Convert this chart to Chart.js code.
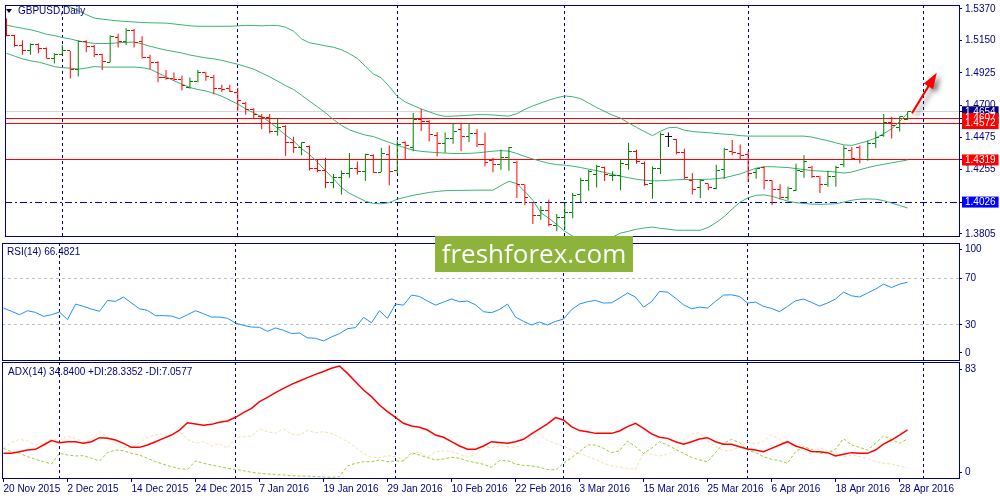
<!DOCTYPE html>
<html><head><meta charset="utf-8">
<script src="https://cdn.jsdelivr.net/npm/chart.js@4.4.1/dist/chart.umd.min.js"></script>
<style>
html,body{margin:0;padding:0;background:#fff;}
#wrap{position:relative;width:1000px;height:500px;overflow:hidden;background:#fff;}
canvas{position:absolute;left:0;}
.lbl{position:absolute;font-family:'Liberation Sans',Arial,sans-serif;font-size:10px;color:#000080;white-space:nowrap;line-height:12px;}
#tri{position:absolute;left:6px;top:9px;width:0;height:0;border-left:3.5px solid transparent;border-right:3.5px solid transparent;border-top:4px solid #000040;}
#logo{position:absolute;left:435px;top:236px;width:198px;height:36px;background:#8db33a;color:#fff;font-family:'Open Sans',sans-serif;font-size:26px;line-height:35px;text-align:center;}
</style></head><body>
<div id="wrap">
<canvas id="cMain" width="1000" height="241" style="top:0px"></canvas>
<canvas id="cRsi" width="1000" height="120" style="top:241px"></canvas>
<canvas id="cAdx" width="1000" height="139" style="top:361px"></canvas>
<div id="tri"></div>
<div class="lbl" style="left:18px;top:5px">GBPUSD,Daily</div>
<div class="lbl" style="left:7px;top:246px">RSI(14) 66.4821</div>
<div class="lbl" style="left:8px;top:366px">ADX(14) 34.8400 +DI:28.3352 -DI:7.0577</div>
<div id="logo">freshforex.com</div>
</div>
<script>
// ---------------- data ----------------
const dateTickLabels = ['20 Nov 2015','2 Dec 2015','14 Dec 2015','24 Dec 2015','7 Jan 2016','19 Jan 2016','29 Jan 2016','10 Feb 2016','22 Feb 2016','3 Mar 2016','15 Mar 2016','25 Mar 2016','6 Apr 2016','18 Apr 2016','28 Apr 2016'];
const dateTickIdx = [0,8,16,24,32,40,48,56,64,72,80,88,96,104,112];
const monthStartIdx = [7,29,49,70,93,115];

const open = [1.5289,1.5188,1.5118,1.5077,1.5124,1.5095,1.5028,1.5055,1.5077,1.4949,
1.5145,1.5111,1.5055,1.5000,1.5174,1.5145,1.5219,1.5145,1.5033,1.4998,
1.4893,1.4889,1.4882,1.4825,1.4865,1.4927,1.4893,1.4816,1.4814,1.4791,
1.4713,1.4668,1.4623,1.4612,1.4514,1.4551,1.4443,1.4409,1.4416,1.4262,
1.4244,1.4161,1.4195,1.4228,1.4262,1.4240,1.4352,1.4235,1.4359,1.4246,
1.4438,1.4409,1.4600,1.4589,1.4487,1.4431,1.4469,1.4532,1.4480,1.4503,
1.4427,1.4314,1.4290,1.4334,1.4303,1.4146,1.4022,1.3931,1.3970,1.3862,
1.3918,1.3952,1.4078,1.4177,1.4217,1.4267,1.4211,1.4213,1.4285,1.4379,
1.4296,1.4155,1.4257,1.4483,1.4458,1.4368,1.4177,1.4127,1.4155,1.4122,
1.4251,1.4379,1.4365,1.4359,1.4235,1.4267,1.4173,1.4116,1.4060,1.4109,
1.4240,1.4269,1.4201,1.4150,1.4201,1.4285,1.4386,1.4409,1.4323,1.4431,
1.4487,1.4578,1.4544,1.4600];
const high = [1.5305,1.5190,1.5152,1.5129,1.5129,1.5102,1.5062,1.5118,1.5077,1.5152,
1.5152,1.5118,1.5057,1.5186,1.5197,1.5235,1.5230,1.5179,1.5051,1.5005,
1.4944,1.4927,1.4904,1.4893,1.4944,1.4933,1.4911,1.4843,1.4843,1.4821,
1.4724,1.4679,1.4639,1.4639,1.4605,1.4560,1.4480,1.4443,1.4420,1.4323,
1.4334,1.4222,1.4246,1.4368,1.4308,1.4363,1.4359,1.4404,1.4420,1.4454,
1.4447,1.4646,1.4674,1.4595,1.4514,1.4510,1.4578,1.4571,1.4571,1.4532,
1.4510,1.4334,1.4390,1.4409,1.4312,1.4150,1.4026,1.3997,1.4044,1.3943,
1.4022,1.4089,1.4195,1.4251,1.4285,1.4274,1.4240,1.4319,1.4438,1.4390,
1.4308,1.4274,1.4510,1.4510,1.4465,1.4397,1.4228,1.4184,1.4155,1.4285,
1.4404,1.4458,1.4427,1.4379,1.4262,1.4274,1.4177,1.4150,1.4134,1.4292,
1.4352,1.4278,1.4210,1.4244,1.4278,1.4420,1.4409,1.4420,1.4454,1.4517,
1.4639,1.4619,1.4623,1.4656];
const low = [1.5179,1.5106,1.5051,1.5051,1.5062,1.5024,1.4990,1.5051,1.4886,1.4900,
1.5068,1.5035,1.4944,1.4998,1.5102,1.5118,1.5102,1.5024,1.4949,1.4859,
1.4877,1.4870,1.4803,1.4814,1.4859,1.4870,1.4776,1.4791,1.4791,1.4661,
1.4634,1.4607,1.4532,1.4503,1.4487,1.4348,1.4370,1.4352,1.4246,1.4233,
1.4122,1.4122,1.4078,1.4195,1.4217,1.4173,1.4228,1.4235,1.4143,1.4224,
1.4319,1.4379,1.4521,1.4447,1.4345,1.4370,1.4431,1.4379,1.4443,1.4409,
1.4274,1.4233,1.4251,1.4244,1.4055,1.4004,1.3873,1.3903,1.3857,1.3823,
1.3835,1.3914,1.4026,1.4105,1.4127,1.4173,1.4173,1.4109,1.4251,1.4292,
1.4139,1.4049,1.4222,1.4409,1.4359,1.4184,1.4078,1.4055,1.4109,1.4116,
1.4188,1.4352,1.4323,1.4166,1.4188,1.4116,1.4004,1.4044,1.4038,1.4105,
1.4195,1.4195,1.4089,1.4132,1.4132,1.4269,1.4323,1.4296,1.4314,1.4404,
1.4480,1.4469,1.4517,1.4595];
const close = [1.5186,1.5118,1.5077,1.5124,1.5095,1.5028,1.5055,1.5077,1.4949,1.5145,
1.5106,1.5055,1.5005,1.5179,1.5140,1.5219,1.5135,1.5033,1.4998,1.4893,
1.4889,1.4882,1.4836,1.4865,1.4927,1.4898,1.4814,1.4812,1.4798,1.4735,
1.4668,1.4634,1.4612,1.4514,1.4544,1.4443,1.4409,1.4438,1.4262,1.4244,
1.4161,1.4195,1.4226,1.4262,1.4240,1.4359,1.4233,1.4363,1.4240,1.4427,
1.4420,1.4600,1.4585,1.4496,1.4431,1.4469,1.4516,1.4480,1.4503,1.4427,
1.4301,1.4290,1.4334,1.4404,1.4146,1.4060,1.3931,1.3970,1.3869,1.3918,
1.3952,1.4071,1.4177,1.4240,1.4274,1.4217,1.4214,1.4292,1.4375,1.4308,
1.4150,1.4257,1.4498,1.4483,1.4368,1.4195,1.4116,1.4173,1.4127,1.4246,
1.4390,1.4370,1.4352,1.4228,1.4257,1.4177,1.4116,1.4060,1.4120,1.4244,
1.4308,1.4201,1.4150,1.4201,1.4269,1.4397,1.4330,1.4323,1.4436,1.4476,
1.4578,1.4560,1.4619,1.4654];

const bbUpper = [1.5600,1.5573,1.5546,1.5519,1.5492,1.5465,1.5438,1.5411,1.5384,1.5357,
1.5330,1.5306,1.5299,1.5292,1.5286,1.5282,1.5279,1.5275,1.5273,1.5272,
1.5271,1.5265,1.5259,1.5252,1.5249,1.5249,1.5249,1.5249,1.5249,1.5252,
1.5255,1.5255,1.5252,1.5255,1.5255,1.5242,1.5215,1.5161,1.5134,1.5124,
1.5113,1.5103,1.5086,1.5059,1.5025,1.4971,1.4917,1.4890,1.4830,1.4762,
1.4722,1.4698,1.4674,1.4654,1.4634,1.4622,1.4624,1.4627,1.4630,1.4634,
1.4634,1.4632,1.4627,1.4624,1.4641,1.4671,1.4695,1.4715,1.4735,1.4752,
1.4764,1.4759,1.4745,1.4715,1.4684,1.4657,1.4630,1.4610,1.4576,1.4546,
1.4516,1.4488,1.4519,1.4543,1.4546,1.4526,1.4517,1.4512,1.4509,1.4503,
1.4499,1.4495,1.4488,1.4485,1.4485,1.4485,1.4485,1.4485,1.4485,1.4485,
1.4485,1.4478,1.4465,1.4453,1.4438,1.4424,1.4420,1.4435,1.4451,1.4472,
1.4502,1.4536,1.4587,1.4644];
const bbMiddle = [1.5257,1.5245,1.5235,1.5225,1.5211,1.5194,1.5184,1.5171,1.5161,1.5147,
1.5137,1.5130,1.5129,1.5130,1.5134,1.5137,1.5139,1.5127,1.5110,1.5096,
1.5083,1.5073,1.5063,1.5049,1.5039,1.5029,1.5022,1.5012,1.4998,1.4985,
1.4968,1.4951,1.4924,1.4897,1.4867,1.4836,1.4809,1.4769,1.4728,1.4688,
1.4647,1.4600,1.4559,1.4529,1.4509,1.4492,1.4482,1.4461,1.4441,1.4421,
1.4404,1.4387,1.4379,1.4374,1.4370,1.4367,1.4364,1.4364,1.4365,1.4368,
1.4374,1.4380,1.4384,1.4380,1.4364,1.4343,1.4326,1.4310,1.4296,1.4286,
1.4283,1.4276,1.4266,1.4255,1.4245,1.4232,1.4219,1.4206,1.4195,1.4185,
1.4178,1.4174,1.4174,1.4178,1.4181,1.4183,1.4183,1.4183,1.4185,1.4188,
1.4195,1.4208,1.4222,1.4242,1.4262,1.4272,1.4272,1.4269,1.4266,1.4259,
1.4252,1.4245,1.4242,1.4239,1.4235,1.4228,1.4235,1.4251,1.4266,1.4279,
1.4289,1.4299,1.4309,1.4319];
const bbLower = [1.5061,1.5042,1.5022,1.5009,1.5000,1.4985,1.4968,1.4961,1.4958,1.4951,
1.4958,1.4969,1.4965,1.4965,1.4965,1.4965,1.4965,1.4961,1.4951,1.4924,
1.4897,1.4870,1.4846,1.4823,1.4809,1.4799,1.4782,1.4762,1.4735,1.4708,
1.4674,1.4647,1.4620,1.4583,1.4539,1.4492,1.4451,1.4397,1.4357,1.4303,
1.4245,1.4188,1.4127,1.4087,1.4060,1.4032,1.4017,1.4014,1.4022,1.4046,
1.4060,1.4073,1.4083,1.4093,1.4100,1.4105,1.4107,1.4107,1.4108,1.4109,
1.4109,1.4109,1.4141,1.4171,1.4154,1.4100,1.4039,1.3952,1.3914,1.3870,
1.3823,1.3789,1.3762,1.3749,1.3749,1.3762,1.3783,1.3810,1.3823,1.3837,
1.3846,1.3852,1.3843,1.3837,1.3830,1.3830,1.3830,1.3830,1.3850,1.3884,
1.3925,1.3978,1.4026,1.4056,1.4073,1.4076,1.4066,1.4049,1.4032,1.4022,
1.4016,1.4012,1.4010,1.4012,1.4014,1.4026,1.4039,1.4046,1.4048,1.4046,
1.4036,1.4019,1.4002,1.3985];

const rsi = [44.4,41.6,38.7,42.1,40.7,37.3,38.7,41.0,34.5,47.8,
45.8,43.5,41.6,50.9,50.1,53.8,48.7,43.8,42.4,37.9,
37.9,37.6,35.3,38.7,42.1,39.6,36.7,36.7,35.6,31.6,
29.6,28.2,27.9,24.5,27.4,25.4,22.6,23.1,18.9,18.6,
16.3,19.7,22.6,26.8,27.7,36.4,31.9,42.1,35.6,47.8,
46.9,55.5,54.3,50.4,46.9,49.5,52.1,49.8,50.4,47.2,
41.3,40.4,43.2,47.8,36.7,33.0,29.9,32.5,29.9,33.0,
35.0,43.0,47.8,49.8,50.9,48.7,48.9,52.9,57.2,53.8,
45.2,49.8,58.6,58.0,52.9,47.2,43.8,45.2,44.4,50.1,
55.5,55.7,54.3,48.7,49.5,45.8,44.1,41.3,45.8,50.6,
52.1,49.2,46.1,48.7,52.1,58.0,54.9,53.8,57.2,60.6,
64.8,62.0,64.8,66.5];
const adx = [17.8,17.8,19.0,20.2,20.7,23.8,27.0,25.5,26.2,26.2,
25.0,26.2,29.1,28.6,27.4,25.0,22.1,22.1,23.8,26.2,
28.6,31.0,34.6,39.9,39.0,38.0,38.7,40.2,41.1,43.8,
47.2,50.3,55.1,58.2,61.6,64.7,67.6,70.0,72.4,74.8,
76.8,79.2,80.8,75.5,69.5,63.5,58.7,52.7,47.9,43.8,
39.5,37.5,36.6,34.6,31.0,29.4,26.2,23.1,20.7,20.7,
23.1,26.2,25.7,25.0,26.2,27.9,31.8,35.4,39.0,43.6,
41.9,37.1,34.2,33.4,32.2,32.2,32.2,33.9,37.1,39.5,
35.8,31.8,29.4,28.6,26.2,24.3,26.2,28.2,29.1,26.2,
24.3,24.3,22.6,20.9,20.2,19.0,21.4,23.8,26.2,23.1,
21.4,19.2,19.0,18.3,15.9,17.1,18.3,17.8,17.8,20.2,
24.5,27.4,31.0,34.8];
const plusDI = [21.4,19.0,17.8,15.4,13.5,11.8,10.1,17.8,16.6,15.9,
16.1,14.2,12.3,18.3,20.2,19.7,17.8,16.6,14.2,11.8,
9.9,8.2,6.7,6.2,12.3,10.6,9.4,8.2,7.0,6.2,
5.3,4.1,3.4,2.9,2.4,2.2,1.7,1.4,1.4,1.0,
0.7,0.5,1.0,8.7,10.6,11.8,11.8,13.0,11.8,12.3,
12.3,18.3,16.6,14.7,13.0,13.7,14.9,14.2,12.3,11.1,
9.9,7.7,12.5,12.5,10.1,9.1,8.7,7.7,6.2,5.8,
10.6,14.7,19.0,23.8,23.8,21.4,18.3,19.7,26.7,22.6,
17.8,21.4,26.2,23.8,20.7,17.8,14.9,13.0,11.8,18.3,
25.0,27.9,25.5,20.2,18.3,15.4,13.5,12.5,10.6,19.0,
22.6,20.7,17.8,18.3,20.7,28.4,23.8,22.1,20.2,25.0,
30.3,27.9,25.0,28.3];
const minusDI = [21.4,25.5,27.9,26.7,23.8,25.0,27.4,27.4,30.3,28.6,
26.2,27.4,33.4,29.4,25.0,21.9,22.1,25.5,29.4,31.0,
31.8,27.9,33.4,27.9,25.0,26.2,23.1,25.0,21.4,29.4,
29.8,30.3,35.4,33.4,32.2,35.4,31.8,31.0,34.2,32.7,
33.4,32.2,29.4,26.2,22.1,17.8,14.9,14.7,16.1,15.4,
13.0,16.6,19.0,14.9,19.0,19.7,19.0,17.1,14.9,17.1,
22.6,21.9,23.3,22.6,22.1,25.0,29.8,31.8,27.0,25.0,
23.1,20.2,17.8,15.4,13.5,10.6,8.7,7.7,7.0,6.2,
18.3,17.1,15.9,17.1,20.2,27.4,31.8,32.7,26.2,23.1,
19.7,20.2,22.1,26.2,24.5,26.7,31.0,27.9,23.1,23.8,
20.2,17.1,22.1,19.5,19.0,15.4,16.6,15.4,14.2,11.8,
10.6,10.1,8.7,7.1];

const priceAxisLabels = [1.5370,1.5150,1.4925,1.4700,1.4475,1.4255,1.3805];
const supportLevels = [1.4026];
const resistanceLevels = [1.4319,1.4607,1.4572];
const bidPrice = 1.4654;
const rsiTickPos = [94.6,70,30,6.1];
const rsiTickText = ['100','70','30','0'];
const rsiLevels = [70,30];
const adxTickPos = [78.5,4.1];
const adxTickText = ['83','0'];
const arrowFrom = {x:113.6, y:1.4649};
const arrowTo = {x:116.65, y:1.4926};

// ---------------- style ----------------
const NAVY = '#000080';
const FONT = "'Liberation Sans', Arial, sans-serif";
const UP = '#008000', DOWN = '#ff0000', DOJI = '#000000';
const X_MIN = -0.1875, X_MAX = 119.4375;
const PRICE_MIN = 1.3790, PRICE_MAX = 1.5397;

function kindOf(i){ return close[i] > open[i] ? 'up' : (close[i] < open[i] ? 'down' : 'doji'); }
const COL = {up:UP, down:DOWN, doji:DOJI};
function tickImg(color, side){
  const c = document.createElement('canvas'); c.width = 7; c.height = 1;
  const g = c.getContext('2d'); g.fillStyle = color;
  if (side === 'L') g.fillRect(0,0,3,1); else g.fillRect(4,0,3,1);
  return c;
}
const OPEN_IMG = {}, CLOSE_IMG = {};
for (const k of ['up','down','doji']) { OPEN_IMG[k] = tickImg(COL[k],'L'); CLOSE_IMG[k] = tickImg(COL[k],'R'); }

const framePlugin = { id:'frame', afterDraw(chart){
  const a = chart.chartArea, c = chart.ctx;
  c.save(); c.strokeStyle = NAVY; c.lineWidth = 1; c.setLineDash([]);
  c.strokeRect(a.left+0.5, a.top+0.5, a.right-a.left, a.bottom-a.top);
  c.restore();
}};
const crispPlugin = { id:'crisp', beforeDatasetsDraw(chart){ chart.ctx.imageSmoothingEnabled = false; } };
const arrowPlugin = { id:'arrow', afterDatasetsDraw(chart){
  const xs = chart.scales.x, ys = chart.scales.y, c = chart.ctx;
  const x1 = xs.getPixelForValue(arrowFrom.x), y1 = ys.getPixelForValue(arrowFrom.y);
  const x2 = xs.getPixelForValue(arrowTo.x), y2 = ys.getPixelForValue(arrowTo.y);
  const ang = Math.atan2(y2-y1, x2-x1), L = 16, W = 5.5;
  const bx = x2 - L*Math.cos(ang), by = y2 - L*Math.sin(ang);
  c.save();
  c.shadowColor = 'rgba(0,0,0,0.45)'; c.shadowBlur = 5; c.shadowOffsetX = 4; c.shadowOffsetY = 3;
  c.strokeStyle = '#ff0000'; c.fillStyle = '#ff0000'; c.lineWidth = 2.2; c.lineCap = 'round';
  c.beginPath(); c.moveTo(x1,y1); c.lineTo(bx + 3*Math.cos(ang), by + 3*Math.sin(ang)); c.stroke();
  c.beginPath(); c.moveTo(x2,y2);
  c.lineTo(bx + W*Math.sin(ang), by - W*Math.cos(ang));
  c.lineTo(bx - W*Math.sin(ang), by + W*Math.cos(ang));
  c.closePath(); c.fill();
  c.restore();
}};

function gridX(){
  return { type:'linear', position:'bottom', min:X_MIN, max:X_MAX, bounds:'data', offset:false,
    afterBuildTicks: s => { s.ticks = monthStartIdx.map(v => ({value:v})); },
    afterFit: s => { s.height = 0; s.paddingLeft = 0; s.paddingRight = 0; },
    ticks:{display:false},
    grid:{display:true, offset:false, drawOnChartArea:true, drawTicks:false, color:NAVY, lineWidth:1},
    border:{display:false, dash:[3,3]} };
}
function rightAxis(min, max, tickObjs, opts){
  return { type:'linear', position:'right', min, max, bounds:'data',
    afterBuildTicks: s => { s.ticks = tickObjs.map(t => Object.assign({}, t)); },
    afterFit: s => { s.width = 41; s.paddingTop = 0; s.paddingBottom = 0; },
    ticks: Object.assign({ autoSkip:false, padding:3, font:{family:FONT, size:10, lineHeight:1.1}, color:NAVY }, opts.ticks || {}),
    grid: Object.assign({ drawOnChartArea:true, drawTicks:true, tickLength:3, tickWidth:1, tickColor:NAVY, lineWidth:1 }, opts.grid || {}),
    border: Object.assign({ display:false }, opts.border || {}) };
}
const baseOpts = { responsive:false, animation:false, devicePixelRatio:1, events:[],
  plugins:{ legend:{display:false}, tooltip:{enabled:false} } };

// ---------------- main price chart ----------------
const BOX = {support:'#0000ff', res:'#ff0000', bid:'#000080'};
const LINE = {plain:'rgba(0,0,0,0)', support:'#0000cd', res:'#ff0000', bid:'#d6d6d6'};
const mainTicks = priceAxisLabels.map(v => ({value:v, kind:'plain'}))
  .concat(supportLevels.map(v => ({value:v, kind:'support'})))
  .concat([{value:resistanceLevels[0], kind:'res'}, {value:bidPrice, kind:'bid'}])
  .concat(resistanceLevels.slice(1).map(v => ({value:v, kind:'res'})));
const idx = open.map((_, i) => i);
const lineDs = (arr, color, extra) => Object.assign({ type:'line', data: arr.map((v,i) => ({x:i, y:v})),
  borderColor:color, borderWidth:1, pointRadius:0, tension:0, fill:false }, extra || {});

new Chart(document.getElementById('cMain'), {
  type:'line',
  data:{ datasets:[
    { type:'line', showLine:false, data: open.map((v,i) => ({x:i, y:v})), pointStyle: c => OPEN_IMG[kindOf(c.dataIndex)], pointRadius:3, order:0 },
    { type:'line', showLine:false, data: close.map((v,i) => ({x:i, y:v})), pointStyle: c => CLOSE_IMG[kindOf(c.dataIndex)], pointRadius:3, order:0 },
    { type:'bar', data: idx.map(i => ({x:i, y:[low[i], high[i]]})), backgroundColor: c => COL[kindOf(c.dataIndex)],
      barThickness:1, borderWidth:0, inflateAmount:0, order:1 },
    lineDs(bbUpper, '#3cb371', {order:2}),
    lineDs(bbMiddle, '#3cb371', {order:2}),
    lineDs(bbLower, '#3cb371', {order:2})
  ]},
  options: Object.assign({}, baseOpts, {
    layout:{ padding:{left:2, right:0, top:2, bottom:1} },
    scales:{
      x: gridX(),
      y: rightAxis(PRICE_MIN, PRICE_MAX, mainTicks, {
        ticks:{ callback: v => v.toFixed(4),
          color: c => (c.tick && c.tick.kind !== 'plain') ? '#ffffff' : NAVY,
          showLabelBackdrop: c => !!(c.tick && c.tick.kind !== 'plain'),
          backdropColor: c => (c.tick && BOX[c.tick.kind]) || 'rgba(0,0,0,0)',
          backdropPadding:{top:0, bottom:0, left:3, right:3} },
        grid:{ color: c => (c.tick ? LINE[c.tick.kind] : 'rgba(0,0,0,0)') },
        border:{ dash: c => (c.tick && c.tick.kind === 'support') ? [7,3,2,3] : [] }
      })
    }
  }),
  plugins:[crispPlugin, arrowPlugin, framePlugin]
});

// ---------------- RSI ----------------
new Chart(document.getElementById('cRsi'), {
  type:'line',
  data:{ datasets:[ lineDs(rsi, '#1e90ff') ] },
  options: Object.assign({}, baseOpts, {
    layout:{ padding:{left:2, right:0, top:2, bottom:1} },
    scales:{
      x: gridX(),
      y: rightAxis(0, 100, rsiTickPos.map(v => ({value:v})), {
        ticks:{ callback: (v, i) => rsiTickText[i] },
        grid:{ color: c => (c.tick && rsiLevels.includes(c.tick.value)) ? '#c0c0c0' : 'rgba(0,0,0,0)' },
        border:{ dash:[3,3] }
      })
    }
  }),
  plugins:[framePlugin]
});

// ---------------- ADX ----------------
new Chart(document.getElementById('cAdx'), {
  type:'line',
  data:{ datasets:[
    lineDs(adx, '#ff0000', {xAxisID:'x', borderWidth:1.5}),
    lineDs(plusDI, '#9acd32', {xAxisID:'x', borderDash:[3,2]}),
    lineDs(minusDI, '#f5deb3', {xAxisID:'x', borderDash:[3,2]})
  ]},
  options: Object.assign({}, baseOpts, {
    layout:{ padding:{left:2, right:0, top:1, bottom:0} },
    scales:{
      x: gridX(),
      xl: { type:'linear', position:'bottom', min:X_MIN, max:X_MAX, bounds:'data', offset:false,
        afterBuildTicks: s => { s.ticks = dateTickIdx.map(v => ({value:v})); },
        afterFit: s => { s.height = 22; s.paddingLeft = 0; s.paddingRight = 0; },
        ticks:{ autoSkip:false, maxRotation:0, minRotation:0, align:'start', padding:1, color:NAVY,
          font:{family:FONT, size:10}, callback: (v, i) => dateTickLabels[i] },
        grid:{ offset:false, drawOnChartArea:false, drawTicks:true, tickLength:4, color:NAVY, lineWidth:1 },
        border:{ display:false } },
      y: rightAxis(0, 83.7, adxTickPos.map(v => ({value:v})), {
        ticks:{ callback: (v, i) => adxTickText[i] },
        grid:{ color:'rgba(0,0,0,0)' }
      })
    }
  }),
  plugins:[framePlugin]
});
</script>
</body></html>
